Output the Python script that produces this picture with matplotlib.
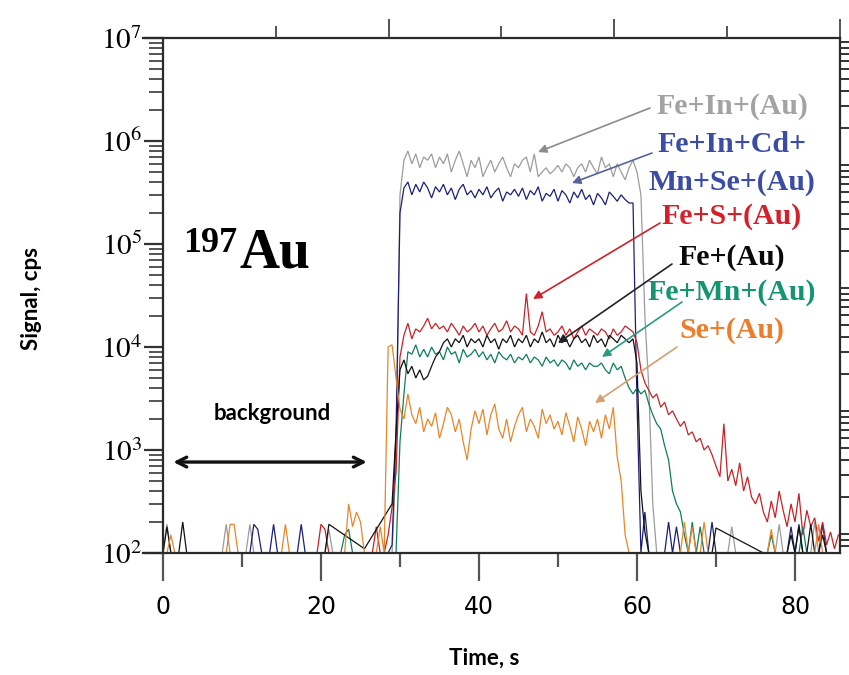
import numpy as np
import matplotlib
matplotlib.use("Agg")
import matplotlib.pyplot as plt
from matplotlib.ticker import LogLocator, FixedLocator, FuncFormatter, NullFormatter

nan = np.nan

# acquisition grid, 0.5 s per reading
time_s = np.arange(0, 86, 0.5)

# 197Au signal (cps) for each particle type
fe_in = [
    100, 190, 100, 100, 100, 100, 100, 100, 100, 100,
    100, 100, 100, 100, 100, 100, 190, 100, 100, 100,
    100, 100, 190, 100, 100, 100, 100, 100, 100, 100,
    100, 100, 100, 100, 100, 100, 100, 100, 100, 100,
    100, 100, 170, 100, 100, 100, 100, 100, 100, 100,
    100, 100, 100, 100, 100, 100, 100, 100, 100, 800,
    3e5, 6.5e5, 8e5, 6e5, 7.5e5, 5.5e5, 7e5, 6.5e5, 7.5e5, 5.5e5,
    7e5, 6e5, 7.5e5, 5e5, 6.5e5, 8e5, 6e5, 4.5e5, 6.5e5, 5.5e5,
    7e5, 4.5e5, 5.5e5, 6.5e5, 5e5, 6e5, 7e5, 5.5e5, 4.5e5, 6e5,
    5.5e5, 6.5e5, 7e5, 5e5, 7.5e5, 4.5e5, 5e5, 5.5e5, 4.8e5, 5.2e5,
    5.8e5, 5e5, 6e5, 5.5e5, 4.5e5, 5.5e5, 6e5, 5e5, 6.5e5, 5.5e5,
    4.8e5, 7e5, 5.5e5, 6e5, 4.5e5, 6e5, 5e5, 4.2e5, 5.5e5, 6.5e5,
    5e5, 3e5, 2e4, 4e3, 300, 100, 100, 100, 100, 100,
    100, 100, 100, 100, 100, 100, 100, 100, 100, 100,
    100, 100, 100, 100, 180, 100, 100, 100, 100, 100,
    100, 100, 100, 100, 100, 100, 190, 100, 100, 100,
    100, 100, 100, 100, 100, 200, 100, 100, 100, 100,
    100, 100,
]

fe_in_cd_mn_se = [
    100, 100, 100, 100, 100, 100, 100, 100, 100, 100,
    100, 100, 100, 100, 100, 100, 100, 100, 100, 100,
    100, 100, 100, 190, 170, 100, 100, 100, 190, 100,
    100, 100, 100, 100, 100, 190, 100, 100, 100, 100,
    100, 100, 100, 100, 100, 100, 100, 100, 100, 100,
    100, 100, 100, 100, 100, 100, 100, 100, 120, 1500,
    2e5, 3.5e5, 4e5, 3e5, 3.8e5, 3.2e5, 4e5, 3.5e5, 2.8e5, 3.6e5,
    3.2e5, 3.8e5, 3e5, 3.5e5, 2.7e5, 3.4e5, 3.8e5, 3e5, 3.3e5, 2.8e5,
    3.4e5, 3e5, 3.6e5, 2.8e5, 3.2e5, 3.5e5, 2.6e5, 3.2e5, 3e5, 3.4e5,
    2.9e5, 3.5e5, 2.7e5, 3.3e5, 3e5, 3.6e5, 2.6e5, 3.1e5, 2.9e5, 3.4e5,
    2.6e5, 3.3e5, 3e5, 2.5e5, 3.2e5, 2.8e5, 3.4e5, 2.7e5, 3e5, 2.4e5,
    3.1e5, 2.8e5, 2.4e5, 3.2e5, 2.9e5, 2.6e5, 3e5, 2.7e5, 2.5e5, 2.5e5,
    3000, 100, 250, 100, 100, 100, 100, 100, 200, 100,
    180, 100, 100, 100, 100, 100, 100, 100, 100, 200,
    100, 100, 100, 100, 100, 100, 100, 100, 100, 100,
    100, 100, 100, 100, 100, 100, 100, 100, 100, 180,
    100, 190, 100, 100, 100, 100, 100, 190, 100, 100,
    100, 100,
]

fe_s = [
    100, 100, 100, 100, 100, 100, 100, 100, 100, 100,
    100, 100, 100, 100, 100, 100, 100, 100, 100, 100,
    100, 100, 100, 100, 100, 100, 100, 100, 100, 100,
    100, 100, 100, 100, 100, 100, 100, 100, 100, 100,
    190, 170, 100, 100, 100, 100, 100, 100, 100, 100,
    100, 100, 100, 100, 180, 100, 100, 150, 280, 600,
    8000, 1.3e4, 1.7e4, 1.2e4, 1.5e4, 1.4e4, 1.6e4, 1.9e4, 1.5e4, 1.7e4,
    1.5e4, 1.6e4, 1.4e4, 1.7e4, 1.5e4, 1.3e4, 1.6e4, 1.4e4, 1.5e4, 1.7e4,
    1.4e4, 1.6e4, 1.3e4, 1.5e4, 1.7e4, 1.4e4, 1.5e4, 1.8e4, 1.4e4, 1.6e4,
    1.5e4, 1.3e4, 3.3e4, 1.4e4, 1.3e4, 1.6e4, 2.2e4, 1.4e4, 1.5e4, 1.3e4,
    1.4e4, 1.6e4, 1.3e4, 1.5e4, 1.2e4, 1.4e4, 1.6e4, 1.3e4, 1.5e4, 1.4e4,
    1.3e4, 1.5e4, 1.4e4, 1.2e4, 1.5e4, 1.3e4, 1.4e4, 1.6e4, 1.5e4, 1.4e4,
    1.1e4, 6000, 4500, 3800, 3200, 3500, 2600, 2900, 2200, 2400,
    2000, 1700, 1900, 1400, 1500, 1200, 1300, 1000, 1100, 900,
    700, 550, 1800, 500, 650, 450, 750, 400, 550, 350,
    300, 380, 250, 200, 320, 220, 400, 260, 180, 300,
    200, 380, 150, 260, 180, 220, 130, 200, 120, 160,
    110, 150,
]

fe = [
    100, 180, 100, 100, 100, 200, 100, 100, 100, 100,
    100, 100, 100, 100, 100, 100, 100, 100, 100, 100,
    100, 100, 100, 100, 100, 100, 100, 100, 100, 100,
    100, 100, 100, 100, 100, 100, 100, 100, 100, 100,
    100, 100, 190, nan, nan, nan, nan, nan, nan, nan,
    nan, 110, nan, nan, nan, nan, nan, nan, 300, 1500,
    6000, 7500, 5500, 6500, 5000, 6000, 4800, 5200, 6500, 8000,
    9000, 1.1e4, 1.2e4, 1.0e4, 1.2e4, 1.1e4, 1.3e4, 1.0e4, 1.2e4, 1.1e4,
    1.2e4, 1.0e4, 1.3e4, 1.1e4, 1.2e4, 9500, 1.2e4, 1.1e4, 1.3e4, 1.0e4,
    1.2e4, 1.1e4, 1.3e4, 1.0e4, 1.2e4, 1.1e4, 1.4e4, 1.1e4, 1.2e4, 1.0e4,
    1.3e4, 1.1e4, 1.2e4, 1.0e4, 1.2e4, 1.3e4, 1.1e4, 1.2e4, 1.0e4, 1.3e4,
    1.1e4, 1.2e4, 1.0e4, 1.3e4, 1.2e4, 1.1e4, 1.3e4, 1.2e4, 1.1e4, 1.2e4,
    7000, 400, 160, 100, 100, 100, 100, 100, 100, 100,
    100, 100, 100, 100, 100, 100, 100, 100, 100, 100,
    175, nan, nan, nan, nan, nan, nan, nan, nan, nan,
    nan, nan, 100, 100, 100, 100, 100, 100, 100, 150,
    100, 180, 100, 100, 190, 100, 100, 150, 100, 100,
    100, 100,
]

fe_mn = [
    100, 100, 100, 100, 100, 100, 100, 100, 100, 100,
    100, 100, 100, 100, 100, 100, 100, 100, 100, 100,
    100, 100, 100, 100, 100, 100, 100, 100, 100, 100,
    100, 100, 100, 100, 100, 100, 100, 100, 100, 100,
    100, 100, 100, 100, 100, 100, 150, 170, 100, 100,
    100, 100, 100, 100, 100, 100, 100, 100, 100, 100,
    1200, 3500, 9000, 8500, 1.05e4, 8000, 9500, 8000, 1.0e4, 8500,
    9000, 7500, 1.0e4, 8500, 9000, 7000, 9500, 8000, 8500, 9500,
    8000, 9000, 7500, 8500, 7000, 9000, 8000, 7500, 8500, 7000,
    8000, 7500, 8500, 7000, 8000, 7500, 6500, 8000, 7000, 7500,
    6500, 7500, 7000, 6000, 7500, 6500, 7000, 6000, 7000, 6500,
    6500, 7000, 6000, 5500, 7000, 6000, 6500, 5000, 4000, 3500,
    4000, 3500, 3800, 2800, 2200, 1800, 1600, 1100, 800, 400,
    300, 250, 150, 100, 200, 100, 180, 100, 100, 100,
    100, 100, 100, 100, 100, 100, 100, 100, 100, 100,
    100, 100, 100, 100, 150, 100, 100, 100, 100, 100,
    100, 100, 180, 100, 100, 100, 100, 100, 100, 100,
    100, 100,
]

se = [
    100, 100, 150, 100, 100, 100, 100, 100, 100, 100,
    100, 100, 100, 100, 100, 100, 100, 190, 190, 100,
    100, 100, 100, 100, 100, 100, 100, 100, 100, 100,
    100, 190, 100, 100, 100, 100, 100, 100, 100, 100,
    100, 100, 100, 100, 100, 100, 100, 300, 180, 250,
    200, 100, 100, 100, 100, 180, 100, 1.0e4, 1.05e4, 5000,
    2500, 2000, 3500, 2200, 1800, 2600, 1500, 2000, 1700, 2300,
    1300, 1800, 2600, 2200, 1500, 2000, 1200, 800, 1600, 2400,
    1800, 2500, 1400, 2200, 2800, 1600, 1300, 2000, 1200, 1700,
    2200, 2600, 1500, 2000, 1700, 1300, 2500, 1800, 2200, 1600,
    1900, 1400, 2300, 1700, 1200, 2100, 1600, 1100, 1900, 1500,
    2000, 1300, 2200, 1600, 2600, 850, 500, 150, 100, 100,
    100, 100, 100, 100, 100, 100, 100, 100, 100, 100,
    100, 100, 200, 100, 180, 100, 100, 200, 100, 100,
    100, 100, 100, 100, 100, 100, 100, 100, 100, 100,
    100, 100, 100, 100, 170, 100, 100, 100, 100, 100,
    100, 100, 100, 100, 100, 100, 190, 100, 100, 100,
    100, 100,
]

series_values = [fe_in, fe_in_cd_mn_se, fe_s, fe_mn, fe, se]
line_colors = ["#9c9c9c", "#1c1f78", "#c62228", "#0f7d5c", "#111111", "#e8862a"]

x_ticks = [0, 20, 40, 60, 80]
x_minor_ticks = [10, 30, 50, 70]
x_lim = (-2.53, 85.7)
y_lim = (1e2, 1e7)

W, H = 849, 675
plt.rcParams["mathtext.fontset"] = "stix"
fig = plt.figure(figsize=(W / 100, H / 100), dpi=100)
ax = fig.add_axes([143 / W, 1 - 553 / H, (840 - 143) / W, (553 - 38) / H])

for vals, col in zip(series_values, line_colors):
    v = np.asarray(vals, dtype=float)
    ok = ~np.isnan(v)
    ax.plot(time_s[ok], v[ok], color=col, lw=0.9, solid_joinstyle="miter")

ax.set_yscale("log")
ax.set_xlim(*x_lim)
ax.set_ylim(*y_lim)

spine_col = "#2a2a2a"
for s in ax.spines.values():
    s.set_linewidth(1.6)
    s.set_color(spine_col)
ax.spines["left"].set_position(("data", 0))
ax.spines["right"].set_visible(False)

ax.xaxis.set_major_locator(FixedLocator(x_ticks))
ax.xaxis.set_minor_locator(FixedLocator(x_minor_ticks))
ax.xaxis.set_minor_formatter(NullFormatter())
ax.yaxis.set_major_locator(LogLocator(base=10, numticks=10))
ax.yaxis.set_minor_locator(LogLocator(base=10, subs=np.arange(2, 10), numticks=20))
ax.yaxis.set_minor_formatter(NullFormatter())
ax.yaxis.set_major_formatter(FuncFormatter(lambda v, p: r"$10^{%d}$" % round(np.log10(v))))

ax.tick_params(axis="x", which="major", direction="out", length=20, width=1.6,
               color="#555555", labelsize=17, pad=10, top=False)
ax.tick_params(axis="x", which="minor", direction="out", length=10, width=1.6,
               color="#555555", top=False)
ax.tick_params(axis="y", which="major", direction="out", length=14, width=1.6,
               color="#333333", labelsize=21, pad=1, right=False)
ax.tick_params(axis="y", which="minor", direction="out", length=10, width=1.4,
               color="#555555", right=False)
for lab in ax.get_xticklabels():
    lab.set_fontfamily("DejaVu Sans")

# top scale ticks
top = ax.twiny()
top.set_xlim(*x_lim)
top.xaxis.set_major_locator(FixedLocator([x_lim[1] * k / 6 for k in (2, 4, 6)]))
top.xaxis.set_minor_locator(FixedLocator([x_lim[1] * k / 6 for k in (1, 3, 5)]))
top.xaxis.set_major_formatter(NullFormatter())
top.xaxis.set_minor_formatter(NullFormatter())
top.tick_params(axis="x", which="major", direction="out", length=14, width=1.3, color="#444444")
top.tick_params(axis="x", which="minor", direction="out", length=9, width=1.3, color="#444444")
for s in top.spines.values():
    s.set_visible(False)

# right-hand scale
right = ax.twinx()
right.set_yscale("log")
right.set_ylim(10 ** -0.154, 10 ** 4.033)
right.yaxis.set_major_locator(LogLocator(base=10, numticks=10))
right.yaxis.set_minor_locator(LogLocator(base=10, subs=np.arange(2, 10), numticks=20))
right.yaxis.set_major_formatter(NullFormatter())
right.yaxis.set_minor_formatter(NullFormatter())
right.tick_params(axis="y", which="both", direction="out", length=9, width=1.4, color="#333333")
for name, s in right.spines.items():
    s.set_visible(name == "right")
right.spines["right"].set_linewidth(1.6)
right.spines["right"].set_color(spine_col)


def fpx(x, y):
    return (x, H - y)


fig.text(484 / W, 1 - 658 / H, "Time, s", family="Lato", weight="bold",
         fontsize=16, ha="center", va="center")
fig.text(32 / W, 1 - 298 / H, "Signal, cps", family="Lato", weight="bold",
         fontsize=16, ha="center", va="center", rotation=90)

fig.text(183 / W, 1 - 252 / H, "197", family="Liberation Serif", weight="bold",
         fontsize=26, ha="left", va="baseline")
fig.text(240 / W, 1 - 268 / H, "Au", family="Liberation Serif", weight="bold",
         fontsize=40, ha="left", va="baseline")

fig.text(272 / W, 1 - 413 / H, "background", family="Lato", weight="bold",
         fontsize=16, ha="center", va="center")
ax.annotate("", xy=(1.3, 764), xytext=(25.8, 764),
            arrowprops=dict(arrowstyle="<->,head_length=0.7,head_width=0.35",
                            lw=2.4, color="#111111", shrinkA=0, shrinkB=0))

label_specs = [
    ("Fe+In+(Au)", 107, "#a3a3a3", (650, 108), (538, 152), "#8c8c8c"),
    ("Fe+In+Cd+", 145, "#3b4ca6", (652, 153), (572, 183), "#56649c"),
    ("Mn+Se+(Au)", 182, "#3b4ca6", None, None, None),
    ("Fe+S+(Au)", 217, "#d4202a", (660, 223), (533, 299), "#d4202a"),
    ("Fe+(Au)", 257, "#0a0a0a", (672, 264), (558, 343), "#222222"),
    ("Fe+Mn+(Au)", 293, "#149470", (682, 302), (602, 357), "#2a9a80"),
    ("Se+(Au)", 330, "#ec7d2c", (677, 347), (595, 403), "#d6a070"),
]
for text, yc, tc, start, end, ac in label_specs:
    fig.text(732 / W, 1 - yc / H, text, family="Liberation Serif", weight="bold",
             fontsize=21.5, color=tc, ha="center", va="center")
    if start is not None:
        fig.add_artist(matplotlib.patches.FancyArrowPatch(
            posA=fpx(*start), posB=fpx(*end), transform=None,
            arrowstyle="-|>,head_length=5,head_width=2.5", lw=1.2, color=ac,
            shrinkA=0, shrinkB=0))

fig.savefig("out.png", dpi=100)
